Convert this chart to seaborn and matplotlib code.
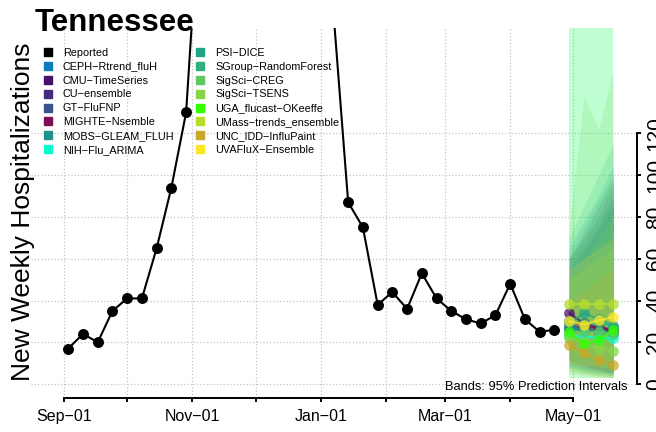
import pandas as pd
import numpy as np
import matplotlib.pyplot as plt
import matplotlib.dates as mdates
from matplotlib.lines import Line2D
import seaborn as sns

# ---------- Data ---------- #

reported_dates = pd.date_range("2022-09-03", "2023-04-22", freq="7D")
reported_values = [17, 24, 20, 35, 41, 41, 65, 94, 130, 240, 380, 560, 720,
                   680, 520, 400, 330, 260, 178, 87, 75, 38, 44, 36, 53, 41,
                   35, 31, 29, 33, 48, 31, 25, 26]

forecast_dates = pd.to_datetime(["2023-04-29", "2023-05-06", "2023-05-13", "2023-05-20"])

models = ["CEPH-Rtrend_fluH", "CMU-TimeSeries", "CU-ensemble", "GT-FluFNP",
          "MIGHTE-Nsemble", "MOBS-GLEAM_FLUH", "NIH-Flu_ARIMA", "PSI-DICE",
          "SGroup-RandomForest", "SigSci-CREG", "SigSci-TSENS", "UGA_flucast-OKeeffe",
          "UMass-trends_ensemble", "UNC_IDD-InfluPaint", "UVAFluX-Ensemble"]

model_colors = ["#0a7dbe", "#48106b", "#472a7a", "#3b528b", "#7b0f56", "#22908c",
                "#00ffcc", "#21a685", "#2db27d", "#5ec962", "#86d549", "#33ff00",
                "#b5de2b", "#c8a828", "#fde725"]

medians = [
    [26, 26, 25, 25],
    [34, 29, 27, 25],
    [28, 27, 27, 26],
    [27, 26, 26, 27],
    [30, 28, 27, 26],
    [27, 26, 25, 24],
    [23, 23, 22, 22],
    [29, 34, 31, 28],
    [30, 29, 29, 28],
    [24, 25, 25, 24],
    [22, 20, 17, 16],
    [25, 19, 21, 26],
    [38.5, 38.5, 38.5, 38.5],
    [18.5, 15, 11.5, 9],
    [30, 28.5, 30.5, 32],
]

lowers = [
    [8, 6, 5, 4], [12, 9, 7, 5], [10, 8, 6, 5], [9, 7, 6, 5], [11, 9, 7, 6],
    [8, 6, 5, 4], [3, 3, 3, 3], [10, 9, 8, 7], [14, 12, 11, 10], [6, 5, 4, 3],
    [7, 5, 4, 3], [3, 3, 3, 3], [15, 13, 12, 11], [5, 4, 3, 3], [10, 9, 8, 8],
]

uppers = [
    [65, 78, 90, 105], [60, 70, 80, 95], [55, 65, 75, 85], [50, 62, 75, 90],
    [60, 72, 85, 98], [70, 85, 100, 115], [230, 230, 230, 230], [62, 75, 88, 100],
    [58, 68, 78, 88], [75, 138, 122, 150], [50, 60, 70, 80], [230, 230, 230, 230],
    [50, 55, 60, 65], [40, 45, 50, 55], [55, 60, 65, 70],
]

# ---------- Build tables ---------- #

reported = pd.DataFrame({"date": reported_dates, "value": reported_values})

rows = []
for m, med in zip(models, medians):
    for d, v in zip(forecast_dates, med):
        rows.append({"model": m, "date": d, "median": v})
forecast = pd.DataFrame(rows)
palette = dict(zip(models, model_colors))

# ---------- Plot ---------- #

sns.set_theme(style="white")
plt.rcParams["font.family"] = ["Liberation Sans", "DejaVu Sans"]
plt.rcParams["text.color"] = "black"
plt.rcParams["xtick.color"] = "black"
plt.rcParams["ytick.color"] = "black"
plt.rcParams["xtick.labelcolor"] = "black"
plt.rcParams["ytick.labelcolor"] = "black"

W, H = 656, 432
fig = plt.figure(figsize=(6.56, 4.32), dpi=100)
ax = fig.add_axes([31 / W, 1 - 398.3 / H, (636.7 - 31) / W, (398.3 - 28) / H])

# prediction bands
for m, c, lo, hi in zip(models, model_colors, lowers, uppers):
    ax.fill_between(forecast_dates, lo, hi, color=c, alpha=0.15, linewidth=0, zorder=1)

sns.lineplot(data=forecast, x="date", y="median", hue="model", palette=palette,
             marker="o", markersize=7.7, markeredgewidth=0, linewidth=1.5,
             alpha=0.75, legend=False, ax=ax, zorder=3)

sns.lineplot(data=reported, x="date", y="value", color="black", marker="o",
             markersize=7.9, markeredgewidth=0, linewidth=1.5, ax=ax, zorder=4)

# axes limits
sep1 = pd.Timestamp("2022-09-01")
ax.set_xlim(mdates.date2num(sep1 - pd.Timedelta(days=15.7)),
            mdates.date2num(sep1 + pd.Timedelta(days=272.1)))
ax.set_ylim(-6.8, 170.4)

month_ticks = pd.date_range("2022-09-01", "2023-05-01", freq="MS")
month_labels = [d.strftime("%b\u221201") if i % 2 == 0 else "" for i, d in enumerate(month_ticks)]
ax.set_xticks(mdates.date2num(month_ticks))
ax.set_xticklabels(month_labels)

ax.yaxis.tick_right()
ax.set_yticks(range(0, 121, 20))
ax.set_xlabel("")
ax.set_ylabel("")

ax.grid(True, linestyle=":", color="#c4c4c4", linewidth=0.9)
ax.set_axisbelow(True)

for s in ["top", "left"]:
    ax.spines[s].set_visible(False)
ax.spines["bottom"].set_bounds(mdates.date2num(month_ticks[0]), mdates.date2num(month_ticks[-1]))
ax.spines["right"].set_bounds(0, 120)
for s in ["bottom", "right"]:
    ax.spines[s].set_color("black")
    ax.spines[s].set_linewidth(1.4)

ax.tick_params(axis="x", direction="out", length=3, width=1.4, color="black",
               labelsize=11.5, pad=4.5, bottom=True)
ax.tick_params(axis="y", direction="out", length=3, width=1.4, color="black",
               labelsize=15, pad=3, right=True, left=False)
for lab in ax.get_yticklabels():
    lab.set_rotation(90)
    lab.set_va("center")
    lab.set_ha("left")

# legend
handles = [Line2D([], [], marker="s", linestyle="", color="black", markersize=5.3)]
handles += [Line2D([], [], marker="s", linestyle="", color=c, markersize=5.3) for c in model_colors]
labels = ["Reported"] + [m.replace("-", "\u2212") for m in models]
ax.legend(handles, labels, ncol=2, frameon=False, fontsize=7.8, loc="upper left",
          bbox_to_anchor=(42.6 / W, 1 - 47.7 / H), bbox_transform=fig.transFigure,
          borderpad=0, borderaxespad=0, handlelength=1.0, handletextpad=0.86,
          columnspacing=2.0, labelspacing=0.36)

ax.text(0.985, 0.03, "Bands: 95% Prediction Intervals", transform=ax.transAxes,
        ha="right", va="center", fontsize=9.3, zorder=6)

fig.text(34.3 / W, 1 - 31 / H, "Tennessee", fontsize=22.5, fontweight="bold",
         ha="left", va="baseline", zorder=10)
fig.text(23 / W, 1 - 212 / H, "New Weekly Hospitalizations", rotation=90,
         ha="center", va="center", fontsize=19)

fig.savefig("out.png", dpi=100)
plt.close()
